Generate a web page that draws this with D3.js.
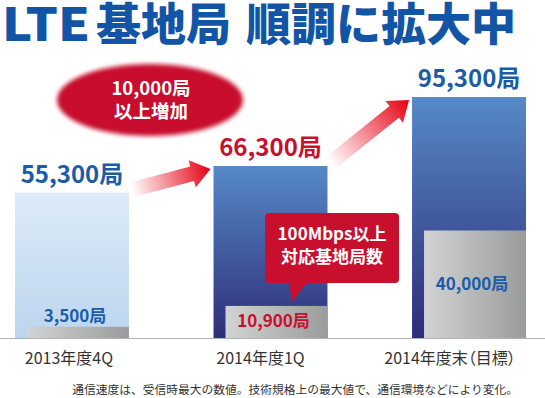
<!DOCTYPE html>
<html>
<head>
<meta charset="utf-8">
<script src="https://cdn.jsdelivr.net/npm/d3@7"></script>
<style>
  body { margin: 0; background: #fff; }
  svg { display: block; font-family: "Noto Sans CJK JP", "Noto Sans", sans-serif; }
  .palt { font-feature-settings: "palt"; }
</style>
</head>
<body>
<div class="chart"></div>
<script>
const categories = ["2013年度4Q", "2014年度1Q", "2014年度末（目標）"];
const totalStations = [55300, 66300, 95300];
const fastStations = [3500, 10900, 40000];
const totalColors = ["#1a5ca8", "#c8102e", "#1a5ca8"];
const fastColors = ["#1a5ca8", "#c8102e", "#1a5ca8"];
const titleParts = ["LTE", "基地局", "順調に拡大中"];

const width = 545;
const height = 398;
const baseline = 338;

const svg = d3.select(".chart")
  .append("svg")
  .attr("width", width)
  .attr("height", height);

const defs = svg.append("defs");

// gradients
const lightGrad = defs.append("linearGradient").attr("id", "light").attr("x1", 0).attr("y1", 0).attr("x2", 0).attr("y2", 1);
lightGrad.append("stop").attr("offset", "0%").attr("stop-color", "#dcebf8");
lightGrad.append("stop").attr("offset", "100%").attr("stop-color", "#bcd5ee");

const darkGrad = defs.append("linearGradient").attr("id", "dark").attr("x1", 0).attr("y1", 0).attr("x2", 0).attr("y2", 1);
darkGrad.append("stop").attr("offset", "0%").attr("stop-color", "#5689c8");
darkGrad.append("stop").attr("offset", "100%").attr("stop-color", "#2e2d78");

const greyGrad = defs.append("linearGradient").attr("id", "grey").attr("x1", 0).attr("y1", 0).attr("x2", 1).attr("y2", 0);
greyGrad.append("stop").attr("offset", "0%").attr("stop-color", "#d2d3d3");
greyGrad.append("stop").attr("offset", "100%").attr("stop-color", "#9a9b9b");

const arrowGrad = defs.append("linearGradient").attr("id", "arrowGrad").attr("x1", 0).attr("y1", 0).attr("x2", 1).attr("y2", 0);
arrowGrad.append("stop").attr("offset", "0%").attr("stop-color", "#e60012").attr("stop-opacity", 0);
arrowGrad.append("stop").attr("offset", "100%").attr("stop-color", "#e60012").attr("stop-opacity", 1);

defs.append("filter").attr("id", "soft")
  .attr("x", "-10%").attr("y", "-20%").attr("width", "120%").attr("height", "140%")
  .append("feGaussianBlur").attr("stdDeviation", 2.2);

// scales (the original is not drawn to a linear scale)
const x = d3.scaleBand()
  .domain(categories)
  .range([15, 526])
  .paddingInner(0.426)
  .paddingOuter(0);

const y = d3.scalePow()
  .exponent(0.93)
  .domain([0, 95300])
  .range([baseline, 97]);

const fmt = d3.format(",d");

// title
const titleX = [2, 96, 246];
svg.append("text")
  .attr("y", 41)
  .attr("fill", "#1254a5")
  .style("font-size", "45px")
  .style("font-weight", 900)
  .selectAll("tspan")
  .data(titleParts)
  .join("tspan")
  .attr("x", (d, i) => titleX[i])
  .attr("textLength", (d, i) => i === 0 ? 88 : null)
  .attr("lengthAdjust", "spacingAndGlyphs")
  .text(d => d);

// main bars
svg.append("g")
  .selectAll("rect")
  .data(totalStations)
  .join("rect")
  .attr("x", (d, i) => x(categories[i]))
  .attr("y", d => y(d))
  .attr("width", x.bandwidth())
  .attr("height", d => baseline - y(d))
  .attr("fill", (d, i) => i === 0 ? "url(#light)" : "url(#dark)");

// 100Mbps bars
svg.append("g")
  .selectAll("rect")
  .data(fastStations)
  .join("rect")
  .attr("x", (d, i) => x(categories[i]) + 12)
  .attr("y", d => y(d))
  .attr("width", x.bandwidth() - 12)
  .attr("height", d => baseline - y(d))
  .attr("fill", "url(#grey)");

// baseline
svg.append("line")
  .attr("x1", 0).attr("x2", width)
  .attr("y1", baseline + 0.5).attr("y2", baseline + 0.5)
  .attr("stroke", "#b4b4b4");

// value labels
svg.append("g")
  .selectAll("text")
  .data(totalStations)
  .join("text")
  .attr("x", (d, i) => x(categories[i]) + x.bandwidth() / 2)
  .attr("y", d => y(d) - 10)
  .attr("text-anchor", "middle")
  .attr("fill", (d, i) => totalColors[i])
  .style("font-size", "24px")
  .style("font-weight", 700)
  .text(d => fmt(d) + "局");

const fastDy = [-16, -11, -48];
svg.append("g")
  .selectAll("text")
  .data(fastStations)
  .join("text")
  .attr("x", (d, i) => x(categories[i]) + 12 + (x.bandwidth() - 12) / 2 - 3)
  .attr("y", (d, i) => baseline + fastDy[i])
  .attr("text-anchor", "middle")
  .attr("fill", (d, i) => fastColors[i])
  .style("font-size", "17px")
  .style("font-weight", 700)
  .text(d => fmt(d) + "局");

// category labels
const catDx = [-3, -10, -19];
svg.append("g")
  .attr("class", "palt")
  .selectAll("text")
  .data(categories)
  .join("text")
  .attr("x", (d, i) => x(d) + x.bandwidth() / 2 + catDx[i])
  .attr("y", 364)
  .attr("text-anchor", "middle")
  .attr("fill", "#333")
  .style("font-size", "16px")
  .text(d => d);

// arrows between bar tops
function arrowPath(len) {
  const w = 7.5, h = 19, hw = 14;
  return `M0,${-w}L${len - h},${-w}L${len - h},${-hw}L${len},0L${len - h},${hw}L${len - h},${w}L0,${w}Z`;
}
for (let i = 0; i < 2; i++) {
  const x0 = x(categories[i]) + x.bandwidth() + 3;
  const y0 = y(totalStations[i]) - 3;
  const x1 = x(categories[i + 1]) - 3;
  const y1 = y(totalStations[i + 1]) + 3;
  const len = Math.hypot(x1 - x0, y1 - y0);
  const ang = Math.atan2(y1 - y0, x1 - x0) * 180 / Math.PI;
  svg.append("path")
    .attr("transform", `translate(${x0},${y0}) rotate(${ang})`)
    .attr("d", arrowPath(len))
    .attr("fill", "url(#arrowGrad)");
}

// ellipse badge
const badge = svg.append("g");
badge.append("ellipse")
  .attr("cx", 150).attr("cy", 100)
  .attr("rx", 93).attr("ry", 36)
  .attr("fill", "#c8102e")
  .attr("filter", "url(#soft)");
badge.selectAll("text")
  .data(["10,000局", "以上増加"])
  .join("text")
  .attr("x", 151)
  .attr("y", (d, i) => 95 + i * 23)
  .attr("text-anchor", "middle")
  .attr("fill", "#fff")
  .style("font-size", "18.5px")
  .style("font-weight", 700)
  .text(d => d);

// callout
const callout = svg.append("g");
callout.append("rect")
  .attr("x", 265).attr("y", 213)
  .attr("width", 134).attr("height", 70)
  .attr("rx", 4)
  .attr("fill", "#c8102e");
callout.append("path")
  .attr("d", "M289,281L292,302L308,281Z")
  .attr("fill", "#c8102e");
callout.selectAll("text")
  .data(["100Mbps以上", "対応基地局数"])
  .join("text")
  .attr("x", 332)
  .attr("y", (d, i) => 240 + i * 23)
  .attr("text-anchor", "middle")
  .attr("fill", "#fff")
  .style("font-size", "17px")
  .style("font-weight", 700)
  .text(d => d);

// footnote
svg.append("text")
  .attr("x", 518)
  .attr("y", 394)
  .attr("text-anchor", "end")
  .attr("fill", "#333")
  .style("font-size", "11.75px")
  .text("通信速度は、受信時最大の数値。技術規格上の最大値で、通信環境などにより変化。");
</script>
</body>
</html>
